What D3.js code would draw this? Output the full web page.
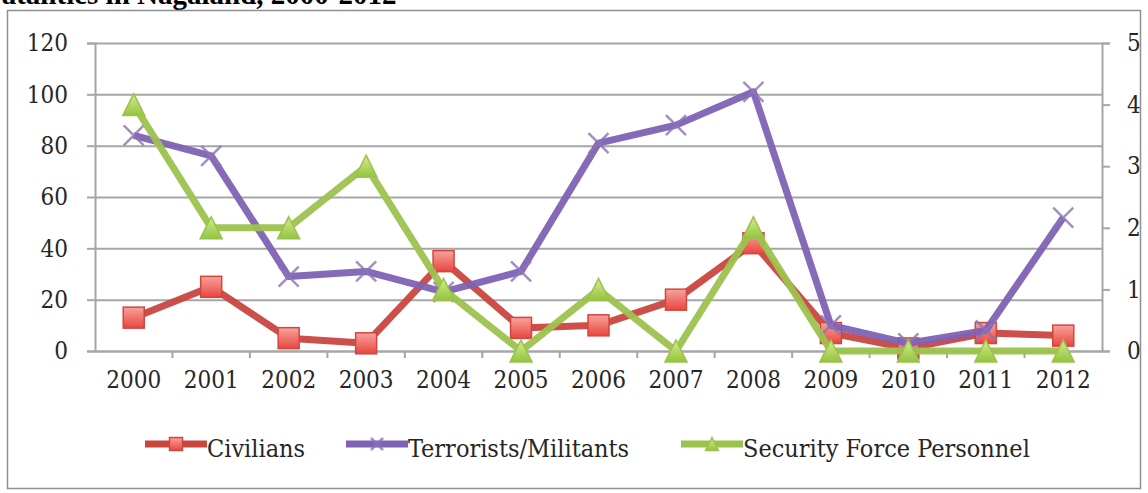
<!DOCTYPE html>
<html>
<head>
<meta charset="utf-8">
<script src="https://cdn.jsdelivr.net/npm/d3@7"></script>
<style>
  body { margin: 0; background: #fff; }
  svg { display: block; }
  .tick text { font-family: "DejaVu Serif", serif; font-stretch: condensed; }
</style>
</head>
<body>
<div id="chart"></div>
<script>
// Données
const years = ["2000", "2001", "2002", "2003", "2004", "2005", "2006", "2007", "2008", "2009", "2010", "2011", "2012"];
const civilians = [13, 25, 5, 3, 35, 9, 10, 20, 42, 7, 1, 7, 6];
const terrorists = [84, 76, 29, 31, 23, 31, 81, 88, 101, 10, 3, 8, 52];
const security = [4, 2, 2, 3, 1, 0, 1, 0, 2, 0, 0, 0, 0]; // axe secondaire
const leftTicks = [0, 20, 40, 60, 80, 100, 120];
const rightTicks = [0, 1, 2, 3, 4, 5];
const seriesNames = ["Civilians", "Terrorists/Militants", "Security Force Personnel"];

const W = 1148, H = 493;
const plotLeft = 95, plotRight = 1102, plotTop = 43, plotBottom = 351;

const svg = d3.select("#chart").append("svg").attr("width", W).attr("height", H);

// titre coupé en haut
svg.append("text")
  .attr("x", -16).attr("y", 4)
  .style("font-family", "Liberation Serif, serif")
  .style("font-weight", "bold")
  .style("font-size", "29px")
  .text("Fatalities in Nagaland, 2000-2012");

// cadre
svg.append("rect")
  .attr("x", 7.5).attr("y", 10.5).attr("width", 1133).attr("height", 478)
  .attr("fill", "#fff").attr("stroke", "#8f8f8f").attr("stroke-width", 1.5);

const x = d3.scaleBand().domain(years).range([plotLeft, plotRight]);
const cx = d => x(d) + x.bandwidth() / 2;
const yL = d3.scaleLinear().domain([0, 120]).range([plotBottom, plotTop]);
const yR = d3.scaleLinear().domain([0, 5]).range([plotBottom, plotTop]);

// grille
svg.append("g")
  .attr("transform", `translate(${plotLeft},0)`)
  .call(d3.axisLeft(yL).tickValues(leftTicks).tickSize(-(plotRight - plotLeft)).tickFormat(""))
  .call(g => g.select(".domain").remove())
  .call(g => g.selectAll("line").attr("stroke", "#a6a6a6").attr("stroke-width", 2));

// axe gauche
svg.append("g")
  .attr("transform", `translate(${plotLeft},0)`)
  .call(d3.axisLeft(yL).tickValues(leftTicks).tickSize(8).tickPadding(19))
  .call(g => g.select(".domain").attr("stroke", "#a6a6a6").attr("stroke-width", 2))
  .call(g => g.selectAll("line").attr("stroke", "#a6a6a6").attr("stroke-width", 2))
  .call(g => g.selectAll("text").attr("fill", "#262626").style("font-size", "24px"));

// axe droit
svg.append("g")
  .attr("transform", `translate(${plotRight},0)`)
  .call(d3.axisRight(yR).tickValues(rightTicks).tickFormat(d3.format("d")).tickSize(8).tickPadding(17))
  .call(g => g.select(".domain").attr("stroke", "#a6a6a6").attr("stroke-width", 2))
  .call(g => g.selectAll("line").attr("stroke", "#a6a6a6").attr("stroke-width", 2))
  .call(g => g.selectAll("text").attr("fill", "#262626").style("font-size", "24px"));

// axe du bas : étiquettes au centre, graduations entre les catégories
svg.append("g")
  .attr("transform", `translate(0,${plotBottom})`)
  .call(d3.axisBottom(x).tickSize(0).tickPadding(20))
  .call(g => g.select(".domain").attr("stroke", "#a6a6a6").attr("stroke-width", 2))
  .call(g => g.selectAll("text").attr("fill", "#262626").style("font-size", "24px"));

svg.append("g")
  .selectAll("line")
  .data(years.slice(1))
  .enter()
  .append("line")
  .attr("x1", d => x(d)).attr("x2", d => x(d))
  .attr("y1", plotBottom).attr("y2", plotBottom + 7)
  .attr("stroke", "#a6a6a6").attr("stroke-width", 2);

// dégradés des marqueurs
const defs = svg.append("defs");
function grad(id, c1, c2) {
  const lg = defs.append("linearGradient").attr("id", id).attr("x1", 0).attr("y1", 0).attr("x2", 0).attr("y2", 1);
  lg.append("stop").attr("offset", "0%").attr("stop-color", c1);
  lg.append("stop").attr("offset", "100%").attr("stop-color", c2);
}
grad("gRed", "#f8a39c", "#e8463f");
grad("gGreen", "#d6ec8e", "#92c43f");

const colors = ["#c9463f", "#7e62b3", "#9cc24d"];

function drawLine(values, yScale, color) {
  const line = d3.line().x((d, i) => cx(years[i])).y(d => yScale(d));
  svg.append("path")
    .datum(values)
    .attr("d", line)
    .attr("fill", "none")
    .attr("stroke", color)
    .attr("stroke-width", 7)
    .attr("stroke-linejoin", "round")
    .attr("opacity", 0.95);
}

function square(g, px, py, s) {
  g.append("rect")
    .attr("x", px - s / 2).attr("y", py - s / 2).attr("width", s).attr("height", s)
    .attr("fill", "url(#gRed)").attr("stroke", "#d2463e").attr("stroke-width", 1.5);
}
function cross(g, px, py, s, color) {
  g.append("path")
    .attr("d", `M${px - s / 2},${py - s / 2}L${px + s / 2},${py + s / 2}M${px - s / 2},${py + s / 2}L${px + s / 2},${py - s / 2}`)
    .attr("stroke", color).attr("stroke-width", 2.5).attr("opacity", 0.8);
}
function triangle(g, px, py, s) {
  g.append("path")
    .attr("d", `M${px},${py - s / 2}L${px + s / 2},${py + s / 2}L${px - s / 2},${py + s / 2}Z`)
    .attr("fill", "url(#gGreen)").attr("stroke", "#9cc24d").attr("stroke-width", 1.5);
}

// séries
drawLine(civilians, yL, colors[0]);
const gc = svg.append("g");
civilians.forEach((v, i) => square(gc, cx(years[i]), yL(v), 21));

drawLine(terrorists, yL, colors[1]);
const gt = svg.append("g");
terrorists.forEach((v, i) => cross(gt, cx(years[i]), yL(v), 20, "#8a75b5"));

drawLine(security, yR, colors[2]);
const gs = svg.append("g");
security.forEach((v, i) => triangle(gs, cx(years[i]), yR(v), 22));

// légende
const legendItems = [
  { name: seriesNames[0], x: 145, color: colors[0] },
  { name: seriesNames[1], x: 346, color: colors[1] },
  { name: seriesNames[2], x: 681, color: colors[2] },
];
const ly = 444;
const lg = svg.append("g");
legendItems.forEach((it, k) => {
  lg.append("line")
    .attr("x1", it.x).attr("x2", it.x + 62)
    .attr("y1", ly).attr("y2", ly)
    .attr("stroke", it.color).attr("stroke-width", 7);
  const mx = it.x + 31;
  if (k === 0) square(lg, mx, ly, 13);
  if (k === 1) cross(lg, mx, ly, 12, "#8a75b5");
  if (k === 2) triangle(lg, mx, ly, 13);
  lg.append("text")
    .attr("x", it.x + 62).attr("y", ly + 13)
    .style("font-family", "DejaVu Serif, serif")
    .style("font-stretch", "condensed")
    .style("font-size", "25px")
    .attr("fill", "#262626")
    .text(it.name);
});
</script>
</body>
</html>
